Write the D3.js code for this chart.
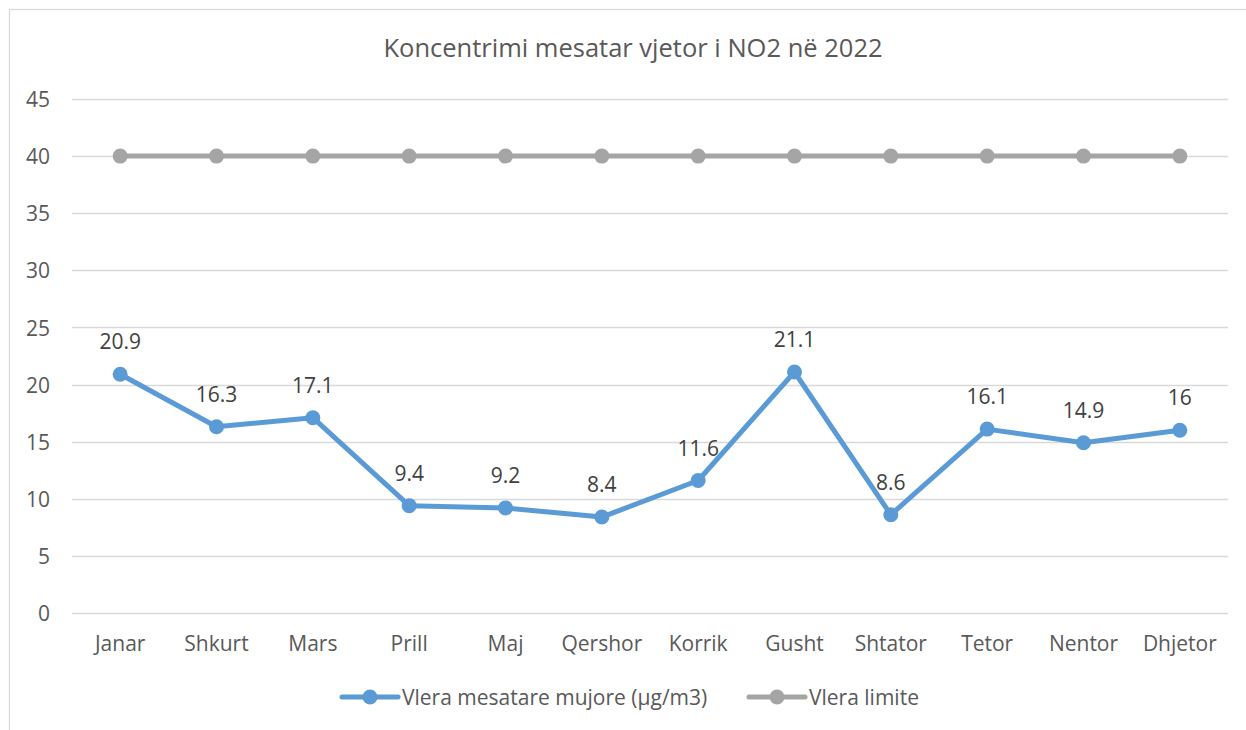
<!DOCTYPE html>
<html>
<head>
<meta charset="utf-8">
<script src="https://cdn.jsdelivr.net/npm/d3@7"></script>
<style>
  html, body { margin: 0; padding: 0; background: #fff; }
  svg { display: block; font-family: "Open Sans", "Liberation Sans", sans-serif; }
</style>
</head>
<body>
<svg id="chart" width="1246" height="730"></svg>
<script>
// Monthly NO2 averages for 2022 and the annual limit value
const months = ["Janar", "Shkurt", "Mars", "Prill", "Maj", "Qershor", "Korrik", "Gusht", "Shtator", "Tetor", "Nentor", "Dhjetor"];
const monthlyMean = [20.9, 16.3, 17.1, 9.4, 9.2, 8.4, 11.6, 21.1, 8.6, 16.1, 14.9, 16];
const limitValue = [40, 40, 40, 40, 40, 40, 40, 40, 40, 40, 40, 40];
const yTicks = [0, 5, 10, 15, 20, 25, 30, 35, 40, 45];
const seriesNames = ["Vlera mesatare mujore (µg/m3)", "Vlera limite"];
const title = "Koncentrimi mesatar vjetor i NO2 në 2022";

const svg = d3.select("#chart");
const plot = { left: 72, right: 1228, top: 99, bottom: 613 };
const FONT = "Open Sans, Liberation Sans, sans-serif";
const LINE_W = 5, DOT_R = 7.5;

// outer frame
svg.append("rect")
  .attr("x", 9.5).attr("y", 9.5)
  .attr("width", 1260).attr("height", 740)
  .attr("fill", "none").attr("stroke", "#d9d9d9").attr("stroke-width", 1.3);

svg.append("text")
  .attr("x", 633).attr("y", 57)
  .attr("text-anchor", "middle")
  .attr("font-size", 25.5).attr("fill", "#595959")
  .text(title);

const x = d3.scaleBand().domain(months).range([plot.left, plot.right]);
const y = d3.scaleLinear().domain([0, 45]).range([plot.bottom, plot.top]);
const cx = d => x(d) + x.bandwidth() / 2;

// horizontal gridlines
svg.append("g").selectAll("line").data(yTicks).join("line")
  .attr("x1", plot.left).attr("x2", plot.right)
  .attr("y1", d => Math.round(y(d)) + 0.5).attr("y2", d => Math.round(y(d)) + 0.5)
  .attr("stroke", "#d9d9d9").attr("stroke-width", 1.3);

// y axis labels
const yAxis = d3.axisLeft(y).tickValues(yTicks).tickSize(0).tickPadding(0);
const gy = svg.append("g").attr("transform", `translate(50,0)`).call(yAxis);
gy.select(".domain").remove();
gy.selectAll("text").attr("font-size", 21).attr("fill", "#595959")
  .attr("font-family", FONT).attr("dy", "0.36em");

// x axis labels
const xAxis = d3.axisBottom(x).tickSize(0).tickPadding(0);
const gx = svg.append("g").attr("transform", `translate(0,${plot.bottom})`).call(xAxis);
gx.select(".domain").remove();
gx.selectAll("text").attr("font-size", 21).attr("fill", "#595959")
  .attr("font-family", FONT).attr("y", 38).attr("dy", 0);

const line = d3.line().x((d, i) => cx(months[i])).y(d => y(d));

function drawSeries(values, color) {
  svg.append("path").datum(values)
    .attr("d", line).attr("fill", "none")
    .attr("stroke", color).attr("stroke-width", LINE_W)
    .attr("stroke-linejoin", "round").attr("stroke-linecap", "round");
  svg.append("g").selectAll("circle").data(values).join("circle")
    .attr("cx", (d, i) => cx(months[i])).attr("cy", d => y(d))
    .attr("r", DOT_R).attr("fill", color);
}

drawSeries(limitValue, "#a5a5a5");
drawSeries(monthlyMean, "#5b9bd5");

// value labels above monthly points
svg.append("g").selectAll("text").data(monthlyMean).join("text")
  .attr("x", (d, i) => cx(months[i])).attr("y", d => y(d) - 25)
  .attr("text-anchor", "middle")
  .attr("font-size", 21).attr("fill", "#404040")
  .text(d => d);

// legend
const legendItems = [
  { name: seriesNames[0], color: "#5b9bd5", x0: 342 },
  { name: seriesNames[1], color: "#a5a5a5", x0: 749 }
];
const lg = svg.append("g").selectAll("g").data(legendItems).join("g")
  .attr("transform", d => `translate(${d.x0},697)`);
lg.append("line").attr("x1", 0).attr("x2", 56).attr("y1", 0).attr("y2", 0)
  .attr("stroke", d => d.color).attr("stroke-width", LINE_W).attr("stroke-linecap", "round");
lg.append("circle").attr("cx", 28).attr("cy", 0).attr("r", DOT_R).attr("fill", d => d.color);
lg.append("text").attr("x", 60).attr("y", 7.5)
  .attr("font-size", 21).attr("fill", "#595959")
  .text(d => d.name);
</script>
</body>
</html>
